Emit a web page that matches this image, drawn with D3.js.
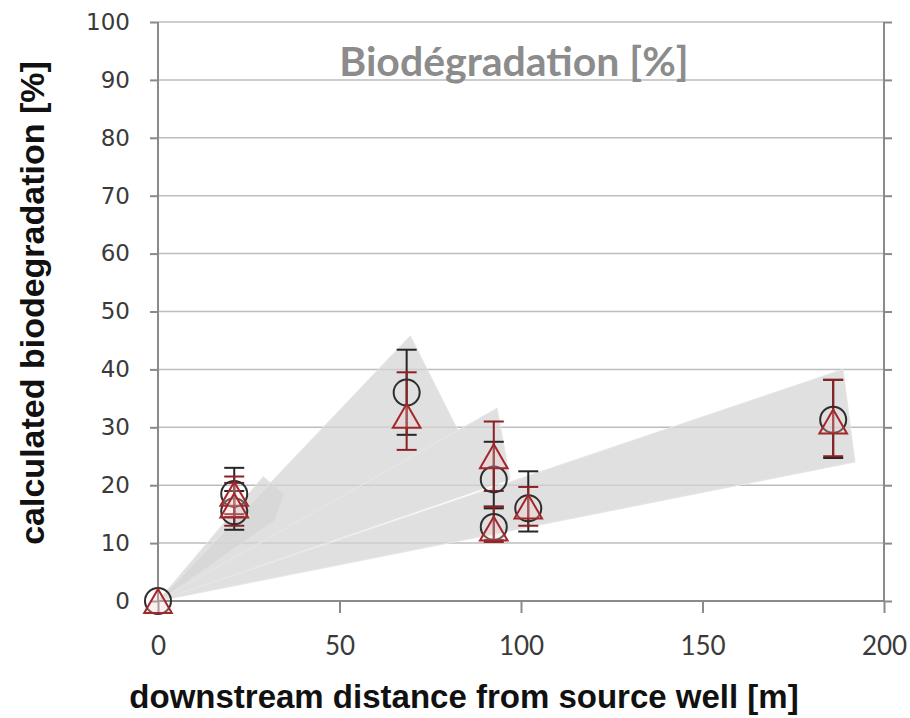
<!DOCTYPE html>
<html>
<head>
    <meta charset="utf-8">
    <title>Biodegradation</title>
    <script type="text/javascript" src="https://cdn.jsdelivr.net/npm/d3@7"></script>
</head>
<body style="margin:0;background:#fff;">

<style>
.grid line { stroke: #bdbdbd; stroke-width: 1.5; }
.axis path, .axis line { stroke: #8a8a8a; stroke-width: 2; }
.ytick text { font-family: "DejaVu Sans", sans-serif; font-size: 23px; fill: #3a3a3a; }
.xtick text { font-family: Lato, sans-serif; font-size: 26px; fill: #3a3a3a; }
.cone { fill: #d4d4d4; fill-opacity: 0.72; stroke: #e6e6e6; stroke-width: 1; }
.circ { fill: none; stroke: #2e2e2e; stroke-width: 2; }
.tri { fill: #f3c9cb; fill-opacity: 0.3; stroke: #a3262b; stroke-width: 2; }
.bar_c { stroke: #262626; stroke-width: 2; }
.bar_t { stroke: #8e1f24; stroke-width: 2; }
</style>

<script type="text/javascript">
    var width = 910,
        height = 718;

    // measurement positions [m]
    var distances = [0, 21, 21, 68.5, 92.5, 92.5, 102, 186];

    // circles (series 1)
    var circleY  = [0, 18.5, 15.5, 36, 21, 12.8, 16, 31.3];
    var circleLo = [0, 14.5, 12.3, 28.7, 16.3, 10.5, 12.0, 24.7];
    var circleHi = [0, 23.0, 19.0, 43.4, 27.5, 16.0, 22.4, 38.2];

    // triangles (series 2)
    var triY  = [0, 18.5, 16.5, 32, 25, 12.5, 16.3, 31];
    var triLo = [0, 15.0, 13.0, 26.1, 19.0, 10.2, 13.0, 25.0];
    var triHi = [0, 21.5, 20.4, 39.5, 31.0, 16.3, 19.7, 38.2];

    // shaded envelopes, vertices as [distance, %]
    var cone1 = [[0, 0], [29, 21.5], [34.5, 18.5], [32, 14]];
    var cone2 = [[0, 0], [69.5, 45.8], [82.6, 29.5]];
    var cone3 = [[0, 0], [93.4, 33.3], [97, 21]];
    var cone4 = [[0, 0], [188.7, 40], [192, 24]];
    var cones = [cone1, cone2, cone3, cone4];

    var xTicks = [0, 50, 100, 150, 200];
    var yTicks = [0, 10, 20, 30, 40, 50, 60, 70, 80, 90, 100];

    var x = d3.scaleLinear().domain([0, 200]).range([158, 884]),
        y = d3.scaleLinear().domain([0, 100]).range([601, 22]);

    var svg = d3.select("body").append("svg")
        .attr("width", width)
        .attr("height", height);

    // horizontal gridlines
    svg.append("g").attr("class", "grid")
        .selectAll("line")
        .data(yTicks.filter(function(d){ return d > 0; }))
        .enter().append("line")
        .attr("x1", x(0)).attr("x2", x(200))
        .attr("y1", function(d){ return y(d); })
        .attr("y2", function(d){ return y(d); });

    // envelopes
    var line = d3.line()
        .x(function(d){ return x(d[0]); })
        .y(function(d){ return y(d[1]); });

    svg.selectAll("path.cone")
        .data(cones)
        .enter().append("path")
        .attr("class", "cone")
        .attr("d", function(d){ return line(d) + "Z"; });

    // axes
    var yAxis = d3.axisLeft(y).tickValues(yTicks).tickSize(8).tickPadding(20);
    svg.append("g")
        .attr("class", "axis ytick")
        .attr("transform", "translate(" + x(0) + ",0)")
        .call(yAxis)
        .call(function(g){ g.select(".domain").attr("d", "M0," + y(0) + "V" + y(100)); });

    var yAxisR = d3.axisRight(y).tickValues(yTicks).tickSize(8).tickFormat("");
    svg.append("g")
        .attr("class", "axis")
        .attr("transform", "translate(" + x(200) + ",0)")
        .call(yAxisR)
        .call(function(g){ g.select(".domain").attr("d", "M0," + y(0) + "V" + y(100)); });

    var xAxis = d3.axisBottom(x).tickValues(xTicks).tickSize(12).tickPadding(24);
    svg.append("g")
        .attr("class", "axis xtick")
        .attr("transform", "translate(0," + y(0) + ")")
        .call(xAxis)
        .call(function(g){ g.select(".domain").attr("d", "M" + x(0) + ",0H" + x(200)); });

    // error bars
    function errorBars(cls, lo, hi, cap){
        var g = svg.append("g");
        var idx = d3.range(distances.length).filter(function(i){ return hi[i] > lo[i]; });
        g.selectAll("line.v").data(idx).enter().append("line")
            .attr("class", cls)
            .attr("x1", function(i){ return x(distances[i]); })
            .attr("x2", function(i){ return x(distances[i]); })
            .attr("y1", function(i){ return y(lo[i]); })
            .attr("y2", function(i){ return y(hi[i]); });
        [lo, hi].forEach(function(arr){
            g.selectAll(null).data(idx).enter().append("line")
                .attr("class", cls)
                .attr("x1", function(i){ return x(distances[i]) - cap; })
                .attr("x2", function(i){ return x(distances[i]) + cap; })
                .attr("y1", function(i){ return y(arr[i]); })
                .attr("y2", function(i){ return y(arr[i]); });
        });
    }
    errorBars("bar_c", circleLo, circleHi, 10);
    errorBars("bar_t", triLo, triHi, 10);

    // markers
    svg.selectAll("circle.circ")
        .data(d3.range(distances.length))
        .enter().append("circle")
        .attr("class", "circ")
        .attr("cx", function(i){ return x(distances[i]); })
        .attr("cy", function(i){ return y(circleY[i]); })
        .attr("r", 13);

    var triSize = 330,
        triH = Math.sqrt(triSize * Math.sqrt(3));
    svg.selectAll("path.tri")
        .data(d3.range(distances.length))
        .enter().append("path")
        .attr("class", "tri")
        .attr("d", d3.symbol().type(d3.symbolTriangle).size(triSize))
        .attr("transform", function(i){
            return "translate(" + x(distances[i]) + "," + (y(triY[i]) + triH / 6) + ")";
        });

    // titles
    svg.append("text")
        .attr("x", 514).attr("y", 76)
        .attr("text-anchor", "middle")
        .style("font-family", "Lato, sans-serif")
        .style("font-weight", "bold")
        .style("font-size", "41px")
        .style("fill", "#8c8c8c")
        .text("Biodégradation [%]");

    svg.append("text")
        .attr("x", 464).attr("y", 708)
        .attr("text-anchor", "middle")
        .style("font-family", "'Liberation Sans', Arial, sans-serif")
        .style("font-weight", "bold")
        .style("font-size", "33px")
        .style("fill", "#111")
        .text("downstream distance from source well [m]");

    svg.append("text")
        .attr("transform", "translate(44,303) rotate(-90)")
        .attr("text-anchor", "middle")
        .style("font-family", "'Liberation Sans', Arial, sans-serif")
        .style("font-weight", "bold")
        .style("font-size", "34px")
        .style("fill", "#111")
        .text("calculated biodegradation [%]");
</script>

</body>
</html>
